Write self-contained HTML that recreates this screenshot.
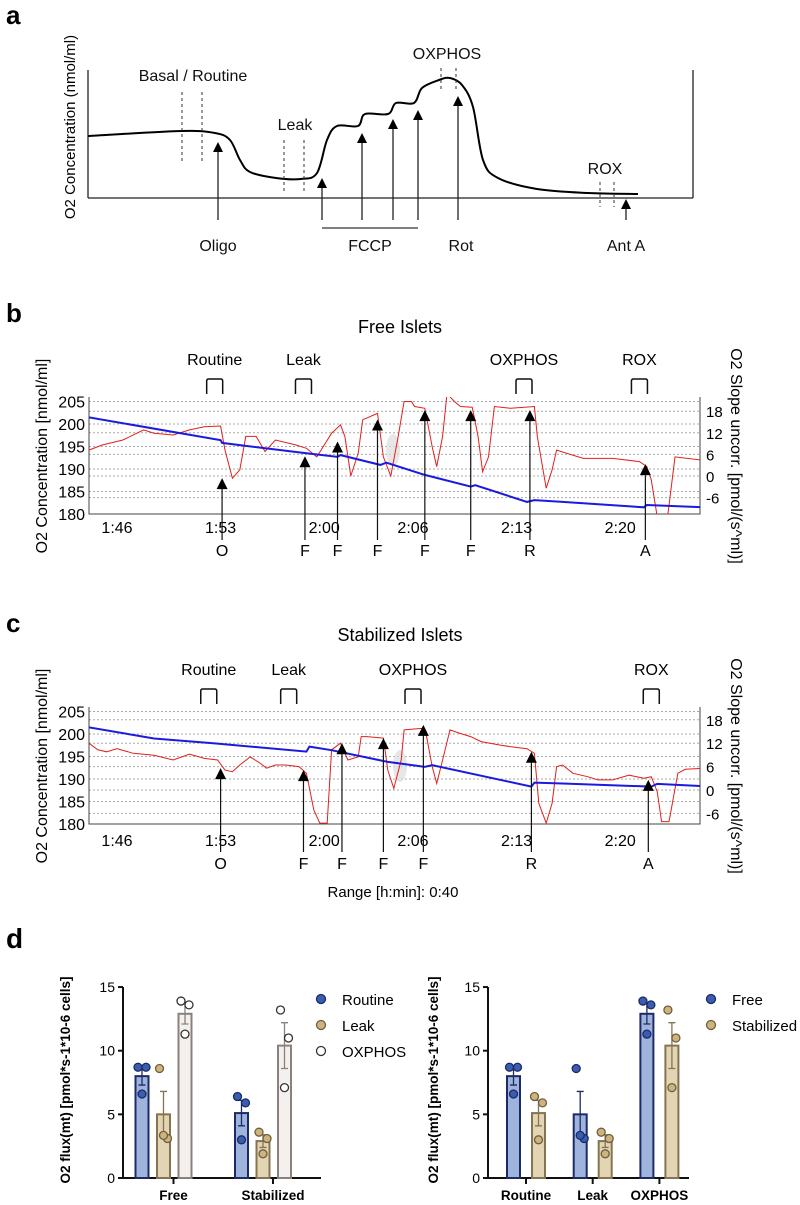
<!DOCTYPE html>
<html><head><meta charset="utf-8"><style>
html,body{margin:0;padding:0;background:#fff;}
svg{display:block;font-family:"Liberation Sans",Arial,sans-serif;}
</style></head><body>
<svg id="fig" width="800" height="1205" viewBox="0 0 800 1205" xmlns="http://www.w3.org/2000/svg">
<defs>
<clipPath id="clipB"><rect x="89" y="397" width="611" height="117"/></clipPath>
<clipPath id="clipC"><rect x="89" y="707" width="611" height="117"/></clipPath>
</defs>

<!-- Panel a -->
<g>
<text x="6" y="24" font-size="26" font-weight="bold">a</text>
<line x1="88" y1="70" x2="88" y2="198" stroke="#222" stroke-width="1.3"/>
<line x1="693" y1="70" x2="693" y2="198" stroke="#222" stroke-width="1.3"/>
<line x1="88" y1="198" x2="693" y2="198" stroke="#222" stroke-width="1.3"/>
<path id="aCurve" fill="none" stroke="#000" stroke-width="2"/>
<g stroke="#333" stroke-width="1" stroke-dasharray="3,3">
<line x1="182" y1="92" x2="182" y2="162"/><line x1="202" y1="92" x2="202" y2="162"/>
<line x1="284" y1="140" x2="284" y2="193"/><line x1="304" y1="140" x2="304" y2="193"/>
<line x1="441" y1="68" x2="441" y2="92"/><line x1="456" y1="68" x2="456" y2="92"/>
<line x1="600" y1="182" x2="600" y2="207"/><line x1="614" y1="182" x2="614" y2="207"/>
</g>
<g id="aArrows"></g>
<line x1="322" y1="228" x2="418" y2="228" stroke="#333" stroke-width="1.3"/>
<g font-size="16" text-anchor="middle" fill="#111">
<text x="193" y="81">Basal / Routine</text>
<text x="295" y="130">Leak</text>
<text x="447" y="59">OXPHOS</text>
<text x="605" y="174">ROX</text>
<text x="218" y="251">Oligo</text>
<text x="370" y="251">FCCP</text>
<text x="461" y="251">Rot</text>
<text x="626" y="251">Ant A</text>
</g>
<text transform="translate(75,127) rotate(-90)" font-size="15" text-anchor="middle">O2 Concentration (nmol/ml)</text>
</g>

<!-- Panel b -->
<g>
<text x="6" y="322" font-size="26" font-weight="bold">b</text>
<text x="400" y="333" font-size="18" text-anchor="middle">Free Islets</text>
<g id="bGrid"></g>
<path d="M89,397 V514 H700 V397" fill="none" stroke="#444" stroke-width="1"/>
<ellipse cx="393" cy="450" rx="7" ry="16" fill="#ddd" opacity="0.7"/>
<g clip-path="url(#clipB)"><path id="bRed" fill="none" stroke="#e0201c" stroke-width="1"/>
<path id="bBlue" fill="none" stroke="#1a1ae0" stroke-width="2"/></g>
<g id="bTicks" font-size="16"></g>
<g id="bArrows"></g>
<g id="bBrackets"></g>
<text transform="translate(47,456) rotate(-90)" font-size="16" text-anchor="middle">O2 Concentration [nmol/ml]</text>
<text transform="translate(731,456) rotate(90)" font-size="16" text-anchor="middle">O2 Slope uncorr. [pmol/(s^ml)]</text>
</g>

<!-- Panel c -->
<g>
<text x="6" y="632" font-size="26" font-weight="bold">c</text>
<text x="400" y="641" font-size="18" text-anchor="middle">Stabilized Islets</text>
<g id="cGrid"></g>
<path d="M89,707 V824 H700 V707" fill="none" stroke="#444" stroke-width="1"/>
<ellipse cx="400" cy="766" rx="7" ry="16" fill="#ddd" opacity="0.7"/>
<g clip-path="url(#clipC)"><path id="cRed" fill="none" stroke="#e0201c" stroke-width="1"/>
<path id="cBlue" fill="none" stroke="#1a1ae0" stroke-width="2"/></g>
<g id="cTicks" font-size="16"></g>
<g id="cArrows"></g>
<g id="cBrackets"></g>
<text transform="translate(47,766) rotate(-90)" font-size="16" text-anchor="middle">O2 Concentration [nmol/ml]</text>
<text transform="translate(731,766) rotate(90)" font-size="16" text-anchor="middle">O2 Slope uncorr. [pmol/(s^ml)]</text>
<text x="393" y="897" font-size="15" text-anchor="middle">Range [h:min]: 0:40</text>
</g>

<!-- Panel d -->
<g>
<text x="6" y="948" font-size="28" font-weight="bold">d</text>
<g id="dLeft"></g>
<g id="dRight"></g>
<text transform="translate(70,1080) rotate(-90)" font-size="13.5" font-weight="bold" text-anchor="middle">O2 flux(mt) [pmol*s-1*10-6 cells]</text>
<text transform="translate(438,1080) rotate(-90)" font-size="13.5" font-weight="bold" text-anchor="middle">O2 flux(mt) [pmol*s-1*10-6 cells]</text>
</g>
</svg>
<script>
// ---------- panel a schematic ----------
const aX = [88,181,215,230,240,250,276,301,317,327,337,358,365,388,396,414,422,439,450,462,473,483,498,537,588,638];
const aY = [136,131,133,140,160,172,178,179,173,140,126,126,114,114,103,103,88,80,78,85,107,160,178,189,193,194];
const aArrowX = [218,322,362,393,418,458,626];
const aArrowTip = [142,178,133,119,110,96,199];

// ---------- panel b/c time axis ----------
const tickMinutes = [106,113,120,126,133,140];
const tickLabels = ['1:46','1:53','2:00','2:06','2:13','2:20'];
const leftTicks = [205,200,195,190,185,180];
const rightTicks = [18,12,6,0,-6];

// Free islets
const bRedT = [104.1,105.0,106.4,107.8,108.5,109.8,110.9,111.9,113.0,113.3,113.8,114.3,114.7,115.4,116.0,116.7,118.1,118.8,119.5,120.5,121.1,121.4,121.8,122.3,122.6,123.6,124.0,124.5,125.0,125.4,125.9,126.1,126.8,127.3,127.6,128.0,128.3,128.8,129.2,130.0,130.4,130.7,131.1,131.5,132.6,134.2,134.4,135.0,135.4,135.7,137.5,139.5,141.3,141.8,142.1,142.5,143.2,143.7,145.6];
const bRedV = [7.2,8.6,10.0,12.8,11.9,11.4,12.8,13.7,13.9,7.2,-0.6,1.7,11.0,11.0,6.8,10.0,8.6,7.7,5.3,11.9,14.2,11.0,0,6.3,15.6,17.4,5.3,0,11.0,20.7,20.7,19.3,18.8,8.1,2.6,11.0,22.9,20.7,19.3,19.1,11.0,1.2,5.3,19.3,18.8,19.3,11.0,-3.4,1.7,7.2,4.9,4.9,4.0,2.6,-1.1,-11.3,-11.3,5.3,4.4];
const bBlueT = [104.1,113.0,113.1,118.8,120.9,121.1,123.8,124.2,126.8,129.9,130.2,133.7,134.2,136.1,141.6,141.8,145.6];
const bBlueV = [201.5,196.4,195.8,193.5,192.7,193.1,190.9,191.4,188.7,186.1,186.4,182.7,183.1,182.7,181.5,182.0,181.5];
const bArrowT = [113.1,118.7,120.9,123.6,126.8,129.9,133.9,141.7];
const bArrowV = [-0.6,5.5,9.6,15.7,18.3,18.3,18.3,3.3];
const bArrowLbl = ['O','F','F','F','F','F','R','A'];
const bPhaseLbl = ['Routine','Leak','OXPHOS','ROX'];
const bPhaseT = [112.6,118.6,133.5,141.3];

// Stabilized islets
const cRedT = [104.1,104.7,105.3,106.0,107.1,108.5,109.8,110.9,111.9,112.8,113.3,113.8,114.3,115.0,115.7,116.1,116.7,117.4,118.3,118.8,119.3,119.7,120.2,120.5,121.1,121.6,122.3,122.5,122.9,124.0,124.3,124.7,125.2,125.4,126.6,126.9,127.3,127.6,128.0,128.5,129.2,129.9,130.6,131.9,132.6,133.7,134.2,134.5,135.0,135.4,135.7,136.1,136.8,137.8,138.5,139.5,140.6,141.6,142.1,142.5,142.8,143.3,143.9,144.4,145.7];
const cRedV = [12.0,10.3,9.8,10.6,9.4,8.9,7.7,9.2,8.1,7.7,5.1,4.7,6.4,8.5,6.8,5.6,6.4,6.4,6.0,4.3,-5.1,-8.5,-8.5,10.3,12.0,7.7,8.5,13.7,13.7,13.3,5.1,0.4,7.7,15.4,15.8,14.1,6.0,1.7,7.7,15.4,14.5,13.7,12.4,11.5,11.1,10.6,9.4,-3.4,-8.5,-3.4,6.0,6.4,4.3,3.4,2.6,2.6,3.8,3.0,3.4,-0.4,-8.1,-8.1,4.3,5.3,5.6];
const cBlueT = [104.1,108.5,112.6,118.8,119.0,120.5,124.3,125.0,126.8,127.3,134.0,134.2,136.1,142.1,142.5,145.7];
const cBlueV = [201.5,199.0,197.9,196.1,197.2,196.4,193.8,193.5,192.7,193.1,188.3,189.2,189.0,188.3,188.9,188.4];
const cArrowT = [113.0,118.6,121.2,124.0,126.7,134.0,141.9];
const cArrowV = [5.6,5.1,12.0,13.3,16.7,9.8,2.6];
const cArrowLbl = ['O','F','F','F','F','R','A'];
const cPhaseLbl = ['Routine','Leak','OXPHOS','ROX'];
const cPhaseT = [112.2,117.6,126.0,142.1];

// ---------- panel d ----------
const groups = ['Free','Stabilized'];
const states = ['Routine','Leak','OXPHOS'];
const freeMeans = [8.0,5.0,12.9];
const freeSem = [0.7,1.8,0.8];
const stabMeans = [5.1,2.9,10.4];
const stabSem = [1.0,0.5,1.8];
const freePts = [[8.7,8.7,6.6],[8.6,3.1,3.35],[13.9,13.6,11.3]];
const stabPts = [[6.4,5.9,3.0],[3.6,3.1,1.9],[13.2,11.0,7.1]];
const dTicks = [0,5,10,15];

const NS = 'http://www.w3.org/2000/svg';
function mk(tag, parent){ const e=document.createElementNS(NS,tag); parent.appendChild(e); return e; }
function setA(e,o){ for(const k in o) e.setAttribute(k,o[k]); return e; }

// panel a curve (Catmull-Rom)
(function(){
  let d='M'+aX[0]+','+aY[0];
  for(let i=0;i<aX.length-1;i++){
    const x0=aX[Math.max(i-1,0)],y0=aY[Math.max(i-1,0)],x1=aX[i],y1=aY[i],x2=aX[i+1],y2=aY[i+1],x3=aX[Math.min(i+2,aX.length-1)],y3=aY[Math.min(i+2,aY.length-1)];
    d+=' C'+(x1+(x2-x0)/6)+','+(y1+(y2-y0)/6)+' '+(x2-(x3-x1)/6)+','+(y2-(y3-y1)/6)+' '+x2+','+y2;
  }
  document.getElementById('aCurve').setAttribute('d',d);
  const g=document.getElementById('aArrows');
  for(let i=0;i<aArrowX.length;i++){
    const l=mk('line',g); setA(l,{x1:aArrowX[i],y1:220,x2:aArrowX[i],y2:aArrowTip[i]+8,stroke:'#222','stroke-width':1.3});
    
    
    const p=mk('path',g); setA(p,{d:'M'+(aArrowX[i]-5)+','+(aArrowTip[i]+10)+' L'+aArrowX[i]+','+aArrowTip[i]+' L'+(aArrowX[i]+5)+','+(aArrowTip[i]+10)+'Z',fill:'#000'});
    
    
  }
})();

function xT(t){ return 117 + (t-106)*14.8; }

function drawOxy(pfx, top, rScale, rZero, redT, redV, blueT, blueV, arT, arV, arL, phL, phT, arrowBase, letterY, tickY){
  const yL = v => top+117 - (v-180)*4.5;
  const yR = v => rZero - v*rScale;
  const grid = document.getElementById(pfx+'Grid');
  const ticks = document.getElementById(pfx+'Ticks');
  leftTicks.forEach(v=>{
    if(v>180){ const l=mk('line',grid); setA(l,{x1:89,x2:700,y1:yL(v),y2:yL(v),stroke:'#aaa','stroke-dasharray':'2,2','stroke-width':1});
      
       }
    const t=mk('text',ticks); setA(t,{x:85,y:yL(v)+6,'text-anchor':'end'}); t.textContent=v;
    
    
  });
  rightTicks.forEach(v=>{
    const l=mk('line',grid); setA(l,{x1:89,x2:700,y1:yR(v),y2:yR(v),stroke:'#aaa','stroke-dasharray':'2,2','stroke-width':1});
    
    
    const t=mk('text',ticks); setA(t,{x:706,y:yR(v)+6,'font-size':15}); t.textContent=v;
    
    
  });
  tickMinutes.forEach((m,i)=>{
    const t=mk('text',ticks); setA(t,{x:xT(m),y:tickY,'text-anchor':'middle'}); t.textContent=tickLabels[i];
    
    
  });
  document.getElementById(pfx+'Red').setAttribute('d', redT.map((t,i)=>(i?'L':'M')+xT(t).toFixed(1)+','+yR(redV[i]).toFixed(1)).join(' '));
  document.getElementById(pfx+'Blue').setAttribute('d', blueT.map((t,i)=>(i?'L':'M')+xT(t).toFixed(1)+','+yL(blueV[i]).toFixed(1)).join(' '));
  const ag=document.getElementById(pfx+'Arrows');
  arT.forEach((t,i)=>{
    const x=xT(t), ty=yR(arV[i]);
    const l=mk('line',ag); setA(l,{x1:x,y1:arrowBase,x2:x,y2:ty+8,stroke:'#111','stroke-width':1.2});
    
    
    const p=mk('path',ag); setA(p,{d:'M'+(x-5.5)+','+(ty+11)+' L'+x+','+ty+' L'+(x+5.5)+','+(ty+11)+'Z',fill:'#000'});
    
    
    const tx=mk('text',ag); setA(tx,{x:x,y:letterY,'text-anchor':'middle','font-size':16}); tx.textContent=arL[i];
    
    
  });
  const bg=document.getElementById(pfx+'Brackets');
  phT.forEach((t,i)=>{
    const x=xT(t), b=top-3, h=15;
    const p=mk('path',bg); setA(p,{d:'M'+(x-8)+','+b+' V'+(b-h+2)+' Q'+(x-8)+','+(b-h)+' '+(x-6)+','+(b-h)+' H'+(x+6)+' Q'+(x+8)+','+(b-h)+' '+(x+8)+','+(b-h+2)+' V'+b,fill:'none',stroke:'#111','stroke-width':1.5});
    
    
    const tx=mk('text',bg); setA(tx,{x:x,y:top-32,'text-anchor':'middle','font-size':16}); tx.textContent=phL[i];
    
    
  });
}
drawOxy('b',397,3.6,476,bRedT,bRedV,bBlueT,bBlueV,bArrowT,bArrowV,bArrowLbl,bPhaseLbl,bPhaseT,540,556,533);
drawOxy('c',707,3.9,790,cRedT,cRedV,cBlueT,cBlueV,cArrowT,cArrowV,cArrowLbl,cPhaseLbl,cPhaseT,852,869,846);

// panel d
const styles = [
  {fill:'#9fb4dd',stroke:'#1c2b66',dot:'#3a5db0',dotStroke:'#1c2b66'},
  {fill:'#e3d5b3',stroke:'#857451',dot:'#cdb47e',dotStroke:'#6f5f3e'},
  {fill:'#f4f0ee',stroke:'#8a807c',dot:'#ffffff',dotStroke:'#333'}
];
const y0=1178, yS=12.73;
const yD = v => y0 - v*yS;
function axes(g, x0, x1, tickXs, tickLbls, nm){
  const a=mk('path',g); setA(a,{d:'M'+x0+','+yD(15)+' V'+y0+' H'+x1,fill:'none',stroke:'#111','stroke-width':2});
  
  
  dTicks.forEach(v=>{
    const l=mk('line',g); setA(l,{x1:x0-5,x2:x0,y1:yD(v),y2:yD(v),stroke:'#111','stroke-width':2});
    
    
    const t=mk('text',g); setA(t,{x:x0-8,y:yD(v)+5,'text-anchor':'end','font-size':14}); t.textContent=v;
    
    
  });
  tickXs.forEach((x,i)=>{
    const l=mk('line',g); setA(l,{x1:x,x2:x,y1:y0,y2:y0+6,stroke:'#111','stroke-width':2});
    
    
    const t=mk('text',g); setA(t,{x:x,y:1200,'text-anchor':'middle','font-size':13.5,'font-weight':'bold'}); t.textContent=tickLbls[i];
    
    
  });
}
function bar(g, cx, mean, sem, pts, st){
  const w=13;
  const r=mk('rect',g); setA(r,{x:cx-w/2,y:yD(mean),width:w,height:y0-yD(mean),fill:st.fill,stroke:st.stroke,'stroke-width':2});
  
  
  const e=mk('path',g); setA(e,{d:'M'+cx+','+yD(mean-sem)+' V'+yD(mean+sem)+' M'+(cx-3.5)+','+yD(mean+sem)+' H'+(cx+3.5)+' M'+(cx-3.5)+','+yD(mean-sem)+' H'+(cx+3.5),stroke:st.stroke,'stroke-width':1.3,fill:'none'});
  
  
  const offs=[-4,4,0];
  pts.forEach((v,k)=>{
    const c=mk('circle',g); setA(c,{cx:cx+offs[k],cy:yD(v),r:4,fill:st.dot,stroke:st.dotStroke,'stroke-width':1.3});
    
    
  });
}
const gl=document.getElementById('dLeft');
const leftCenters = groups.map((_,i)=>163.5+i*99.5);
axes(gl,123,321,leftCenters.map(c=>c+10),groups,'flux-by-group');
groups.forEach((gname,i)=>{
  const means = i===0?freeMeans:stabMeans, sems=i===0?freeSem:stabSem, pts=i===0?freePts:stabPts;
  states.forEach((s,j)=>bar(gl,leftCenters[i]+(j-1)*21.5,means[j],sems[j],pts[j],styles[j]));
});
const gr=document.getElementById('dRight');
const rightCenters = states.map((_,i)=>526+i*66.7);
axes(gr,488,689,rightCenters,states,'flux-by-state');
states.forEach((s,j)=>{
  bar(gr,rightCenters[j]-12.5,freeMeans[j],freeSem[j],freePts[j],styles[0]);
  bar(gr,rightCenters[j]+12.5,stabMeans[j],stabSem[j],stabPts[j],styles[1]);
});
function legend(g,x,labels,sts){
  labels.forEach((lb,i)=>{
    const y=999+i*26;
    const c=mk('circle',g); setA(c,{cx:x,cy:y,r:4.5,fill:sts[i].dot,stroke:sts[i].dotStroke,'stroke-width':1.3});
    
    
    const t=mk('text',g); setA(t,{x:x+21,y:y+6,'font-size':15}); t.textContent=lb;
    
    
  });
}
legend(gl,321,states,styles);
legend(gr,711,groups,[styles[0],styles[1]]);
</script>
</body></html>
